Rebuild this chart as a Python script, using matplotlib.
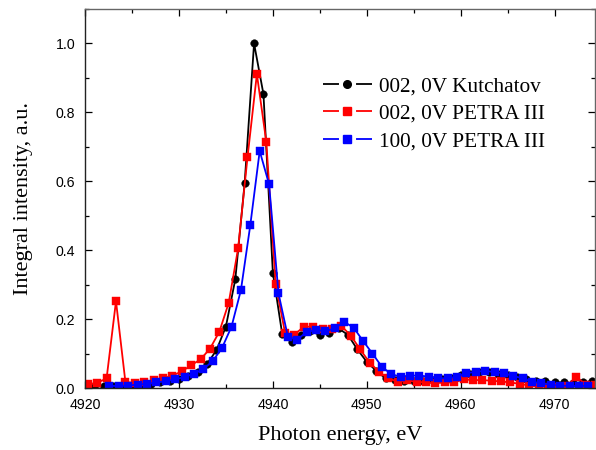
import matplotlib
matplotlib.use("Agg")
import matplotlib.pyplot as plt
from matplotlib.lines import Line2D
from matplotlib.ticker import MultipleLocator, FormatStrFormatter

# ---- data ----
e_kurch = list(range(4920, 4975))
i_kurch = [0.003, 0.004, 0.005, 0.006, 0.007, 0.008, 0.010, 0.013, 0.016, 0.020,
           0.026, 0.034, 0.046, 0.070, 0.110, 0.178, 0.315, 0.595, 1.000, 0.853,
           0.335, 0.156, 0.134, 0.155, 0.165, 0.154, 0.161, 0.173, 0.154, 0.112,
           0.076, 0.050, 0.028, 0.022, 0.020, 0.020, 0.020, 0.022, 0.025, 0.030,
           0.038, 0.042, 0.045, 0.045, 0.042, 0.038, 0.032, 0.026, 0.021, 0.019,
           0.016, 0.016, 0.014, 0.017, 0.019]

e_petra002 = [4920.3 + k for k in range(55)]
i_petra002 = [0.011, 0.015, 0.028, 0.252, 0.018, 0.014, 0.018, 0.022, 0.028, 0.036,
              0.048, 0.066, 0.083, 0.114, 0.163, 0.247, 0.405, 0.669, 0.911, 0.715,
              0.302, 0.160, 0.155, 0.178, 0.178, 0.170, 0.170, 0.180, 0.152, 0.112,
              0.074, 0.047, 0.028, 0.018, 0.022, 0.018, 0.016, 0.014, 0.016, 0.016,
              0.025, 0.023, 0.023, 0.021, 0.019, 0.016, 0.012, 0.007, 0.004, 0.004,
              0.004, 0.005, 0.033, 0.010, 0.010]

e_petra100 = [4922.6 + k for k in range(52)]
i_petra100 = [0.006, 0.006, 0.007, 0.010, 0.012, 0.016, 0.020, 0.025, 0.032, 0.042,
              0.055, 0.078, 0.117, 0.178, 0.284, 0.473, 0.688, 0.591, 0.275, 0.149,
              0.140, 0.163, 0.168, 0.165, 0.173, 0.192, 0.175, 0.137, 0.100, 0.062,
              0.040, 0.033, 0.036, 0.036, 0.033, 0.028, 0.028, 0.033, 0.043, 0.047,
              0.050, 0.046, 0.043, 0.035, 0.028, 0.018, 0.014, 0.009, 0.007, 0.006,
              0.006, 0.006]

labels = ["002, 0V Kutchatov", "002, 0V PETRA III", "100, 0V PETRA III"]
colors = ["black", "#ff0000", "#0000ff"]
markers = ["o", "s", "s"]

plt.rcParams['lines.scale_dashes'] = False

fig = plt.figure(figsize=(5.96, 4.5), dpi=100)
ax = fig.add_axes([85/596, 1-388/450, (595-85)/596, (388-9)/450])

series = [(e_kurch, i_kurch), (e_petra002, i_petra002), (e_petra100, i_petra100)]
for (x, y), c, m in zip(series, colors, markers):
    ax.plot(x, y, color=c, lw=1.3, marker=m, ms=5.5 if m == "o" else 5.8,
            mec=c, mew=0.3)

ax.set_xlim(4920, 4974.3)
ax.set_ylim(0, 1.1)
ax.xaxis.set_major_locator(MultipleLocator(10))
ax.xaxis.set_minor_locator(MultipleLocator(5))
ax.yaxis.set_major_locator(MultipleLocator(0.2))
ax.yaxis.set_minor_locator(MultipleLocator(0.1))
ax.yaxis.set_major_formatter(FormatStrFormatter('%.1f'))

ax.tick_params(which='both', direction='in', top=True, right=True)
ax.tick_params(which='major', length=5, width=0.9, pad=7)
ax.tick_params(which='minor', length=3, width=0.9)
for lab in ax.get_xticklabels() + ax.get_yticklabels():
    lab.set_fontfamily('Liberation Sans')
    lab.set_fontsize(10.2)

for s in ['left', 'bottom']:
    ax.spines[s].set_color('#222222')
    ax.spines[s].set_linewidth(1.0)
for s in ['top', 'right']:
    ax.spines[s].set_color('#666666')
    ax.spines[s].set_linewidth(1.0)

ax.set_xlabel("Photon energy, eV", family='Liberation Serif', fontsize=16, labelpad=10.5)
ax.set_ylabel("Integral intensity, a.u.", family='Liberation Serif', fontsize=16, labelpad=16.5)

handles = [Line2D([], [], color=c, lw=1.3, ls=(0, (11.5, 12.3)), marker=m,
                  ms=5.5, mec=c)
           for c, m in zip(colors, markers)]
leg = ax.legend(handles, labels, loc='upper left', bbox_to_anchor=(0.466, 0.822),
                frameon=False, prop={'family': 'Liberation Serif', 'size': 15.3},
                handlelength=2.3, handletextpad=0.34, labelspacing=0.36,
                numpoints=1, borderaxespad=0, borderpad=0)

fig.savefig("out.png", dpi=100)
